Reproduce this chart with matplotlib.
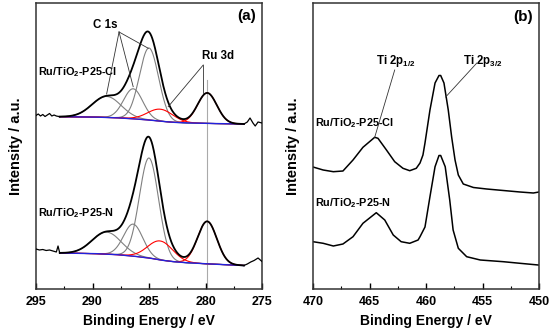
import numpy as np
import matplotlib
matplotlib.use("Agg")
import matplotlib.pyplot as plt

plt.rcParams['font.family'] = ['Liberation Sans', 'DejaVu Sans']
plt.rcParams['font.weight'] = 'bold'
plt.rcParams['mathtext.fontset'] = 'custom'
plt.rcParams['mathtext.rm'] = 'Liberation Sans:bold'
plt.rcParams['mathtext.bf'] = 'Liberation Sans:bold'
plt.rcParams['mathtext.default'] = 'bf'

# ---------------- Panel (a): C 1s / Ru 3d fits ----------------
fit_range = (292.9, 276.6)
comp_names = ["C1", "C2", "C3", "Ru3d32", "Ru3d52"]
comp_centers = [288.75, 286.4, 285.0, 284.0, 279.85]
comp_fwhm = [3.0, 2.0, 2.0, 2.6, 2.0]
comp_colors = ["gray", "gray", "gray", "red", "red"]
heights_cl = [21, 30, 72, 12, 30.5]
heights_n = [22, 32, 100, 19, 42.5]

bg_cl_be = [292.9, 290, 288, 286.5, 285, 284, 283, 282, 280, 276.6]
bg_cl_y = [172.3, 172, 171.3, 170.3, 169, 167.8, 166.8, 166.2, 165.6, 165]
bg_n_be = [292.9, 290, 288, 286.5, 285, 284, 283, 282, 280, 276.6]
bg_n_y = [36, 35.5, 34.5, 33, 31, 29, 27.5, 26.5, 25.2, 23.5]

noise_l_cl_be = [295.0, 294.8, 294.6, 294.4, 294.2, 294.0, 293.8, 293.6, 293.4, 293.2, 292.9]
noise_l_cl_y = [173.5, 175, 173, 174.5, 172.5, 174, 175.5, 173, 174, 173, 172.3]
noise_r_cl_be = [276.6, 276.3, 276.06, 275.8, 275.6, 275.35, 275.0]
noise_r_cl_y = [165, 167, 171, 166, 163, 167, 166]
noise_l_n_be = [295.0, 294.7, 294.4, 294.1, 293.8, 293.5, 293.2, 293.05, 292.9]
noise_l_n_y = [40, 39, 39.5, 38.5, 39, 38, 37, 43, 36]
noise_r_n_be = [276.6, 276.3, 276.0, 275.7, 275.35, 275.0]
noise_r_n_y = [23.5, 25, 27, 28.5, 31, 27.5]

# ---------------- Panel (b): Ti 2p spectra ----------------
ti_cl_be = [470.0, 469.1, 468.2, 467.35, 466.46, 465.58, 464.54, 464.25, 463.5, 462.77,
            462.04, 461.44, 460.86, 460.53, 460.27, 460.09, 459.65, 459.2, 458.85, 458.7, 458.41,
            458.03, 457.73, 457.43, 457.14, 456.7, 455.8, 454.63, 453.16, 451.68, 450.5, 450.0]
ti_cl_pix = [167, 170, 171.7, 171, 160, 147.3, 137.3, 138.3, 150, 161.7,
             168.3, 170.7, 168.3, 163, 155, 143, 110, 83, 75.5, 75.5, 83,
             110, 137, 160, 175, 184, 187.5, 189, 190.5, 192, 193, 192]
ti_n_be = [470.0, 469.1, 468.2, 467.35, 466.46, 465.58, 464.4, 463.65, 462.9, 462.2,
           461.44, 460.7, 460.53, 460.09, 459.65, 459.2, 458.85, 458.7, 458.3, 457.9, 457.6,
           457.14, 456.4, 455.2, 453.16, 451.68, 450.06]
ti_n_pix = [241.7, 243.3, 246, 244, 236.7, 223.3, 212.7, 220, 235, 241.7,
            243.3, 240, 236.7, 227, 196.7, 166.7, 155.5, 155.5, 166.7, 200, 230,
            248.3, 256.7, 260, 261.7, 263.3, 265]

TOP = 289  # y value in axis units = TOP - pixel row

fig = plt.figure(figsize=(5.5, 3.35), dpi=100)
axa = fig.add_axes([36/550, 46/335, 226/550, 286/335])
axb = fig.add_axes([313/550, 46/335, 226/550, 286/335])

def gauss(x, c, h, fwhm):
    s = fwhm / 2.3548
    return h * np.exp(-0.5 * ((x - c) / s) ** 2)

x = np.linspace(fit_range[0], fit_range[1], 600)
for heights, bgb, bgy, nl_b, nl_y, nr_b, nr_y in [
        (heights_cl, bg_cl_be, bg_cl_y, noise_l_cl_be, noise_l_cl_y, noise_r_cl_be, noise_r_cl_y),
        (heights_n, bg_n_be, bg_n_y, noise_l_n_be, noise_l_n_y, noise_r_n_be, noise_r_n_y)]:
    bg = np.interp(x, bgb[::-1], bgy[::-1])
    env = bg.copy()
    for c, h, w, col in zip(comp_centers, heights, comp_fwhm, comp_colors):
        g = gauss(x, c, h, w)
        env += g
        axa.plot(x, bg + g, color=col, lw=0.8, zorder=2)
    axa.plot(x, bg, color='#2222dd', lw=1.0, zorder=3)
    axa.plot(x, env, color='black', lw=1.3, zorder=4)
    axa.plot(nl_b, nl_y, color='black', lw=0.9, zorder=4)
    axa.plot(nr_b, nr_y, color='black', lw=0.9, zorder=4)

axa.plot([279.84, 279.84], [0, 209], color='#aaaaaa', lw=0.8, zorder=1)

axb.plot(ti_cl_be, [TOP - p for p in ti_cl_pix], color='black', lw=1.1)
axb.plot(ti_n_be, [TOP - p for p in ti_n_pix], color='black', lw=1.1)

for ax, xl, ticks in [(axa, (295, 275), [295, 290, 285, 280, 275]),
                      (axb, (470, 450), [470, 465, 460, 455, 450])]:
    ax.set_xlim(*xl)
    ax.set_ylim(0, 286)
    ax.set_xticks(ticks)
    ax.set_xticks(np.arange(min(xl), max(xl) + 0.1, 2.5), minor=True)
    ax.set_yticks([])
    ax.tick_params(axis='x', which='both', direction='in', labelsize=9, pad=5)
    ax.tick_params(axis='x', which='major', length=4, width=1)
    ax.tick_params(axis='x', which='minor', length=2.5, width=0.8)
    for sp in ax.spines.values():
        sp.set_linewidth(1.1)
        sp.set_color('#333333')
    ax.set_xlabel('Binding Energy / eV', fontsize=10, fontweight='bold', labelpad=4)
    ax.set_ylabel('Intensity / a.u.', fontsize=10.5, fontweight='bold', labelpad=9)

fs = 7.8
# panel (a) annotations
axa.text(276.4, 273, '(a)', fontsize=11, ha='center', va='center')
axa.text(294.8, 217, r'Ru/TiO$_2$-P25-Cl', fontsize=fs, ha='left', va='center')
axa.text(294.8, 75.7, r'Ru/TiO$_2$-P25-N', fontsize=fs, ha='left', va='center')
axa.text(288.9, 264, 'C 1s', fontsize=fs + 0.5, ha='center', va='center')
axa.text(278.9, 233, 'Ru 3d', fontsize=fs + 0.5, ha='center', va='center')
c1s_from = (287.65, 257)
for tx, ty in [(288.75, 195), (286.4, 202.3), (285.06, 240.7)]:
    axa.plot([c1s_from[0], tx], [c1s_from[1], ty], color='#333333', lw=0.6, zorder=5)
ru_from = (280.2, 224)
for tx, ty in [(280.2, 196.3), (283.3, 182.3)]:
    axa.plot([ru_from[0], tx], [ru_from[1], ty], color='#333333', lw=0.6, zorder=5)

# panel (b) annotations
axb.text(451.4, 272, '(b)', fontsize=11, ha='center', va='center')
axb.text(469.8, 166, r'Ru/TiO$_2$-P25-Cl', fontsize=fs, ha='left', va='center')
axb.text(469.8, 85.7, r'Ru/TiO$_2$-P25-N', fontsize=fs, ha='left', va='center')
axb.text(462.7, 228, r'Ti 2p$_{1/2}$', fontsize=fs + 0.5, ha='center', va='center')
axb.text(455.0, 228, r'Ti 2p$_{3/2}$', fontsize=fs + 0.5, ha='center', va='center')
axb.plot([462.77, 464.54], [219, 151.7], color='#333333', lw=0.6)
axb.plot([455.5, 458.26], [226, 192], color='#333333', lw=0.6)

fig.savefig('out.png', dpi=100)
